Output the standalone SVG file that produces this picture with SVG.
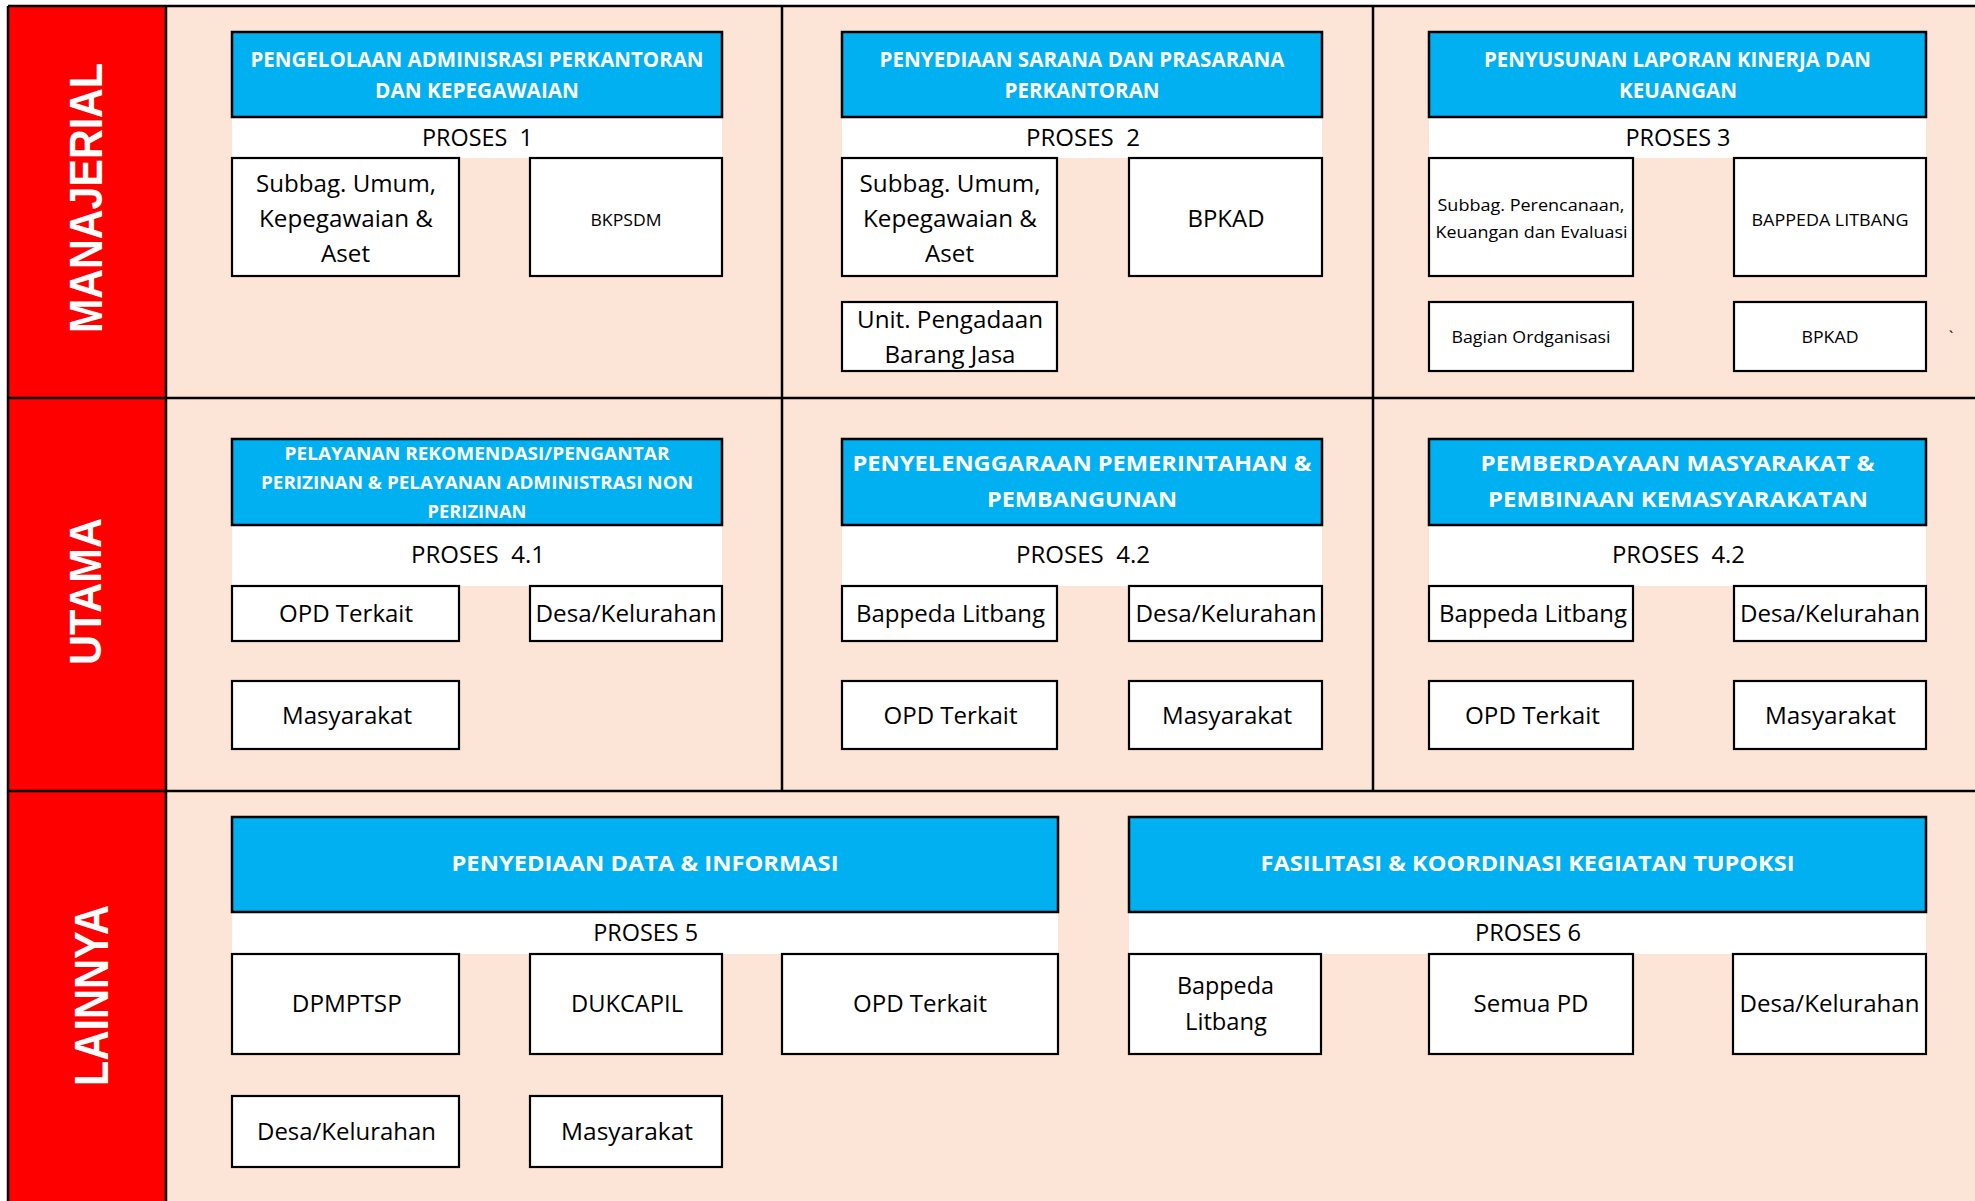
<svg xmlns="http://www.w3.org/2000/svg" width="1975" height="1201" viewBox="0 0 1975 1201">
<style>
.frame{stroke:#000;stroke-width:2.5;fill:none}
.title{fill:#00B0F0;stroke:#000;stroke-width:2.5}
.band{fill:#FFFFFF}
.box{fill:#FFFFFF;stroke:#000;stroke-width:2.2}
text{font-family:"Open Sans","Noto Sans","Liberation Sans",sans-serif;text-anchor:middle;fill:#000}
.tt{font-weight:bold;fill:#FFFFFF;font-size:21px}
.tm{font-weight:bold;fill:#FFFFFF;font-size:18px}
.tl{font-weight:bold;fill:#FFFFFF;font-size:22px}
.p{font-size:23px}
.b{font-size:23px}
.s{font-size:17px}
.lane{font-family:"Liberation Sans",Arial,sans-serif;font-weight:bold;fill:#FFFFFF}
</style>
<rect x="0" y="0" width="1975" height="1201" fill="#FFFFFF"/>
<rect x="166" y="6" width="1809" height="1195" fill="#FCE4D6"/>
<rect x="8" y="6" width="158" height="1195" fill="#FF0000"/>
<g id="frame">
<line class="frame" x1="8" y1="6" x2="1975" y2="6"/>
<line class="frame" x1="8" y1="6" x2="8" y2="1201"/>
<line class="frame" x1="166" y1="6" x2="166" y2="1201"/>
<line class="frame" x1="8" y1="398" x2="1975" y2="398"/>
<line class="frame" x1="8" y1="791" x2="1975" y2="791"/>
<line class="frame" x1="782" y1="6" x2="782" y2="791"/>
<line class="frame" x1="1373" y1="6" x2="1373" y2="791"/>
</g>
<g id="lane-labels">
<text class="lane" font-size="46" transform="translate(102,198) rotate(-90)" textLength="270" lengthAdjust="spacingAndGlyphs">MANAJERIAL</text>
<text class="lane" font-size="44" transform="translate(101,591.5) rotate(-90)" textLength="147" lengthAdjust="spacingAndGlyphs">UTAMA</text>
<text class="lane" font-size="49" transform="translate(108,995.5) rotate(-90)" textLength="181" lengthAdjust="spacingAndGlyphs">LAINNYA</text>
</g>
<g id="connectors"></g>

<!-- ROW 1 -->
<g id="proses1">
<rect class="band" x="232" y="117" width="490" height="41"/>
<rect class="title" x="232" y="32" width="490" height="85"/>
<text class="tt" x="477" y="67" textLength="453" lengthAdjust="spacingAndGlyphs">PENGELOLAAN ADMINISRASI PERKANTORAN</text>
<text class="tt" x="477" y="98" textLength="204" lengthAdjust="spacingAndGlyphs">DAN KEPEGAWAIAN</text>
<text class="p" x="477.5" y="146" xml:space="preserve" textLength="111" lengthAdjust="spacingAndGlyphs">PROSES  1</text>
</g>
<g id="p1-subbag">
<rect class="box" x="232" y="158" width="227" height="118"/>
<text class="b" x="346" y="192" textLength="180" lengthAdjust="spacingAndGlyphs">Subbag. Umum,</text>
<text class="b" x="346" y="227" textLength="174" lengthAdjust="spacingAndGlyphs">Kepegawaian &amp;</text>
<text class="b" x="345.5" y="262" textLength="49" lengthAdjust="spacingAndGlyphs">Aset</text>
</g>
<g id="p1-bkpsdm">
<rect class="box" x="530" y="158" width="192" height="118"/>
<text class="s" x="626" y="226" textLength="71" lengthAdjust="spacingAndGlyphs">BKPSDM</text>
</g>

<g id="proses2">
<rect class="band" x="842" y="117" width="480" height="41"/>
<rect class="title" x="842" y="32" width="480" height="85"/>
<text class="tt" x="1082" y="67" textLength="405" lengthAdjust="spacingAndGlyphs">PENYEDIAAN SARANA DAN PRASARANA</text>
<text class="tt" x="1082" y="98" textLength="155" lengthAdjust="spacingAndGlyphs">PERKANTORAN</text>
<text class="p" x="1083" y="146" xml:space="preserve" textLength="114" lengthAdjust="spacingAndGlyphs">PROSES  2</text>
</g>
<g id="p2-subbag">
<rect class="box" x="842" y="158" width="215" height="118"/>
<text class="b" x="950" y="192" textLength="181" lengthAdjust="spacingAndGlyphs">Subbag. Umum,</text>
<text class="b" x="950" y="227" textLength="174" lengthAdjust="spacingAndGlyphs">Kepegawaian &amp;</text>
<text class="b" x="949.5" y="262" textLength="49" lengthAdjust="spacingAndGlyphs">Aset</text>
</g>
<g id="p2-bpkad">
<rect class="box" x="1129" y="158" width="193" height="118"/>
<text class="b" x="1226" y="227" textLength="77" lengthAdjust="spacingAndGlyphs">BPKAD</text>
</g>
<g id="p2-ulp">
<rect class="box" x="842" y="302" width="215" height="69"/>
<text class="b" x="950" y="328" textLength="186" lengthAdjust="spacingAndGlyphs">Unit. Pengadaan</text>
<text class="b" x="950" y="363" textLength="131" lengthAdjust="spacingAndGlyphs">Barang Jasa</text>
</g>

<g id="proses3">
<rect class="band" x="1429" y="117" width="497" height="41"/>
<rect class="title" x="1429" y="32" width="497" height="85"/>
<text class="tt" x="1677.5" y="67" textLength="387" lengthAdjust="spacingAndGlyphs">PENYUSUNAN LAPORAN KINERJA DAN</text>
<text class="tt" x="1678" y="98" textLength="118" lengthAdjust="spacingAndGlyphs">KEUANGAN</text>
<text class="p" x="1678" y="146" textLength="105" lengthAdjust="spacingAndGlyphs">PROSES 3</text>
</g>
<g id="p3-subbag">
<rect class="box" x="1429" y="158" width="204" height="118"/>
<text class="s" x="1531" y="211" textLength="187" lengthAdjust="spacingAndGlyphs">Subbag. Perencanaan,</text>
<text class="s" x="1531.5" y="238" textLength="192" lengthAdjust="spacingAndGlyphs">Keuangan dan Evaluasi</text>
</g>
<g id="p3-bappeda">
<rect class="box" x="1734" y="158" width="192" height="118"/>
<text class="s" x="1830" y="226" textLength="157" lengthAdjust="spacingAndGlyphs">BAPPEDA LITBANG</text>
</g>
<g id="p3-bagian">
<rect class="box" x="1429" y="302" width="204" height="69"/>
<text class="s" x="1531" y="343" textLength="159" lengthAdjust="spacingAndGlyphs">Bagian Ordganisasi</text>
</g>
<g id="p3-bpkad">
<rect class="box" x="1734" y="302" width="192" height="69"/>
<text class="s" x="1830" y="343" textLength="57" lengthAdjust="spacingAndGlyphs">BPKAD</text>
</g>
<text class="s" x="1951" y="343">`</text>

<!-- ROW 2 -->
<g id="proses41">
<rect class="band" x="232" y="525" width="490" height="61"/>
<rect class="title" x="232" y="439" width="490" height="86"/>
<text class="tm" x="477" y="460" textLength="385" lengthAdjust="spacingAndGlyphs">PELAYANAN REKOMENDASI/PENGANTAR</text>
<text class="tm" x="477" y="489" textLength="432" lengthAdjust="spacingAndGlyphs">PERIZINAN &amp; PELAYANAN ADMINISTRASI NON</text>
<text class="tm" x="477" y="518" textLength="99" lengthAdjust="spacingAndGlyphs">PERIZINAN</text>
<text class="p" x="478" y="563" xml:space="preserve" textLength="134" lengthAdjust="spacingAndGlyphs">PROSES  4.1</text>
</g>
<g id="p41-opd">
<rect class="box" x="232" y="586" width="227" height="55"/>
<text class="b" x="346" y="622" textLength="134" lengthAdjust="spacingAndGlyphs">OPD Terkait</text>
</g>
<g id="p41-desa">
<rect class="box" x="530" y="586" width="192" height="55"/>
<text class="b" x="626" y="622" textLength="181" lengthAdjust="spacingAndGlyphs">Desa/Kelurahan</text>
</g>
<g id="p41-masyarakat">
<rect class="box" x="232" y="681" width="227" height="68"/>
<text class="b" x="347" y="724" textLength="130" lengthAdjust="spacingAndGlyphs">Masyarakat</text>
</g>

<g id="proses42a">
<rect class="band" x="842" y="525" width="480" height="61"/>
<rect class="title" x="842" y="439" width="480" height="86"/>
<text class="tl" x="1082" y="471" textLength="459" lengthAdjust="spacingAndGlyphs">PENYELENGGARAAN PEMERINTAHAN &amp;</text>
<text class="tl" x="1082" y="507" textLength="190" lengthAdjust="spacingAndGlyphs">PEMBANGUNAN</text>
<text class="p" x="1083" y="563" xml:space="preserve" textLength="134" lengthAdjust="spacingAndGlyphs">PROSES  4.2</text>
</g>
<g id="p42a-bappeda">
<rect class="box" x="842" y="586" width="215" height="55"/>
<text class="b" x="950.5" y="622" textLength="189" lengthAdjust="spacingAndGlyphs">Bappeda Litbang</text>
</g>
<g id="p42a-desa">
<rect class="box" x="1129" y="586" width="193" height="55"/>
<text class="b" x="1226" y="622" textLength="181" lengthAdjust="spacingAndGlyphs">Desa/Kelurahan</text>
</g>
<g id="p42a-opd">
<rect class="box" x="842" y="681" width="215" height="68"/>
<text class="b" x="950.5" y="724" textLength="134" lengthAdjust="spacingAndGlyphs">OPD Terkait</text>
</g>
<g id="p42a-masyarakat">
<rect class="box" x="1129" y="681" width="193" height="68"/>
<text class="b" x="1227" y="724" textLength="130" lengthAdjust="spacingAndGlyphs">Masyarakat</text>
</g>

<g id="proses42b">
<rect class="band" x="1429" y="525" width="497" height="61"/>
<rect class="title" x="1429" y="439" width="497" height="86"/>
<text class="tl" x="1677.5" y="471" textLength="394" lengthAdjust="spacingAndGlyphs">PEMBERDAYAAN MASYARAKAT &amp;</text>
<text class="tl" x="1678" y="507" textLength="380" lengthAdjust="spacingAndGlyphs">PEMBINAAN KEMASYARAKATAN</text>
<text class="p" x="1678.5" y="563" xml:space="preserve" textLength="133" lengthAdjust="spacingAndGlyphs">PROSES  4.2</text>
</g>
<g id="p42b-bappeda">
<rect class="box" x="1429" y="586" width="204" height="55"/>
<text class="b" x="1533" y="622" textLength="188" lengthAdjust="spacingAndGlyphs">Bappeda Litbang</text>
</g>
<g id="p42b-desa">
<rect class="box" x="1734" y="586" width="192" height="55"/>
<text class="b" x="1830" y="622" textLength="180" lengthAdjust="spacingAndGlyphs">Desa/Kelurahan</text>
</g>
<g id="p42b-opd">
<rect class="box" x="1429" y="681" width="204" height="68"/>
<text class="b" x="1532.5" y="724" textLength="135" lengthAdjust="spacingAndGlyphs">OPD Terkait</text>
</g>
<g id="p42b-masyarakat">
<rect class="box" x="1734" y="681" width="192" height="68"/>
<text class="b" x="1830.5" y="724" textLength="131" lengthAdjust="spacingAndGlyphs">Masyarakat</text>
</g>

<!-- ROW 3 -->
<g id="proses5">
<rect class="band" x="232" y="912" width="826" height="42"/>
<rect class="title" x="232" y="817" width="826" height="95"/>
<text class="tl" x="645" y="871" textLength="387" lengthAdjust="spacingAndGlyphs">PENYEDIAAN DATA &amp; INFORMASI</text>
<text class="p" x="645.7" y="941" textLength="105" lengthAdjust="spacingAndGlyphs">PROSES 5</text>
</g>
<g id="p5-dpmptsp">
<rect class="box" x="232" y="954" width="227" height="100"/>
<text class="b" x="346.8" y="1012" textLength="110" lengthAdjust="spacingAndGlyphs">DPMPTSP</text>
</g>
<g id="p5-dukcapil">
<rect class="box" x="530" y="954" width="192" height="100"/>
<text class="b" x="627" y="1012" textLength="112" lengthAdjust="spacingAndGlyphs">DUKCAPIL</text>
</g>
<g id="p5-opd">
<rect class="box" x="782" y="954" width="276" height="100"/>
<text class="b" x="920" y="1012" textLength="134" lengthAdjust="spacingAndGlyphs">OPD Terkait</text>
</g>
<g id="p5-desa">
<rect class="box" x="232" y="1096" width="227" height="71"/>
<text class="b" x="346.5" y="1140" textLength="179" lengthAdjust="spacingAndGlyphs">Desa/Kelurahan</text>
</g>
<g id="p5-masyarakat">
<rect class="box" x="530" y="1096" width="192" height="71"/>
<text class="b" x="627" y="1140" textLength="132" lengthAdjust="spacingAndGlyphs">Masyarakat</text>
</g>

<g id="proses6">
<rect class="band" x="1129" y="912" width="797" height="42"/>
<rect class="title" x="1129" y="817" width="797" height="95"/>
<text class="tl" x="1527.5" y="871" textLength="534" lengthAdjust="spacingAndGlyphs">FASILITASI &amp; KOORDINASI KEGIATAN TUPOKSI</text>
<text class="p" x="1528" y="941" textLength="106" lengthAdjust="spacingAndGlyphs">PROSES 6</text>
</g>
<g id="p6-bappeda">
<rect class="box" x="1129" y="954" width="192" height="100"/>
<text class="b" x="1225.5" y="994" textLength="97" lengthAdjust="spacingAndGlyphs">Bappeda</text>
<text class="b" x="1226" y="1030" textLength="82" lengthAdjust="spacingAndGlyphs">Litbang</text>
</g>
<g id="p6-semua">
<rect class="box" x="1429" y="954" width="204" height="100"/>
<text class="b" x="1531" y="1012" textLength="115" lengthAdjust="spacingAndGlyphs">Semua PD</text>
</g>
<g id="p6-desa">
<rect class="box" x="1733" y="954" width="193" height="100"/>
<text class="b" x="1829.5" y="1012" textLength="180" lengthAdjust="spacingAndGlyphs">Desa/Kelurahan</text>
</g>
</svg>
